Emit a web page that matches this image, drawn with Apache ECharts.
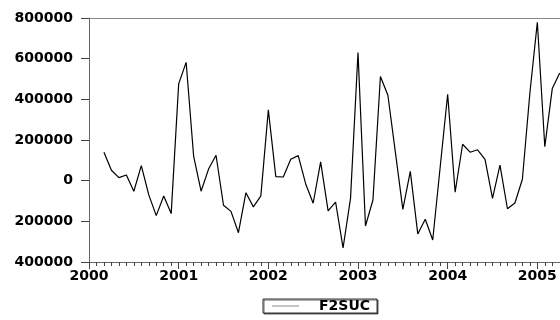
<!DOCTYPE html>
<html>
<head>
<meta charset="utf-8">
<script src="https://cdn.jsdelivr.net/npm/echarts@6/dist/echarts.min.js"></script>
<style>
  html, body { margin: 0; padding: 0; background: #fff; overflow: hidden; width: 560px; height: 320px; }
  /* the plot runs on past the right edge of the page, into 2006 */
  #chart { width: 630px; height: 320px; }
</style>
</head>
<body>
<div id="chart"></div>
<script>
// Monthly series F2SUC, March 2000 to April 2005
const startYear = 2000;
const startMonth = 3;
const seriesName = 'F2SUC';
const f2suc = [
  140000, 51000, 15000, 28000, -52000, 74000, -70000, -172000, -75000, -162000,
  476000, 582000, 121000, -52000, 57000, 125000, -121000, -151000, -256000, -59000, -129000, -75000,
  348000, 20000, 18000, 105000, 123000, -16000, -111000, 92000, -149000, -105000, -331000, -87000,
  630000, -223000, -95000, 512000, 420000, 140000, -141000, 46000, -262000, -190000, -292000, 67000,
  425000, -57000, 179000, 140000, 152000, 105000, -87000, 76000, -138000, -110000, 7000, 430000,
  779000, 167000, 453000, 530000
];
const xTickLabels = ['2000', '2001', '2002', '2003', '2004', '2005'];
const yTickValues = [-400000, -200000, 0, 200000, 400000, 600000, 800000];
const yTickLabels = ['400000', '200000', '0', '200000', '400000', '600000', '800000'];

// decimal-year x coordinate for each observation
const points = f2suc.map((v, i) => [startYear + (startMonth - 1 + i) / 12, v]);

const labelFont = { fontFamily: 'DejaVu Sans', fontWeight: 'bold', fontSize: 14, color: '#000' };

const chart = echarts.init(document.getElementById('chart'), null, { renderer: 'canvas' });
chart.setOption({
  animation: false,
  backgroundColor: '#fff',
  grid: { left: 89, top: 18, right: 0, bottom: 58, containLabel: false },
  legend: {
    left: 263, top: 299,
    padding: [0, 7, 0, 9],
    borderColor: '#333', borderWidth: 1,
    shadowColor: 'rgba(0,0,0,0.6)', shadowOffsetX: 1, shadowOffsetY: 1, shadowBlur: 0,
    backgroundColor: '#fff',
    itemWidth: 27, itemHeight: 1,
    data: [{ name: seriesName, icon: 'rect', itemStyle: { color: '#888' } }],
    formatter: '{gap|}{txt|{name}}',
    textStyle: {
      rich: {
        gap: { width: 15 },
        txt: { fontFamily: 'DejaVu Sans', fontWeight: 'bold', fontSize: 14, color: '#000', lineHeight: 14 }
      }
    }
  },
  xAxis: [{
    type: 'value',
    min: 2000, max: 2006, interval: 1,
    position: 'bottom',
    splitLine: { show: false },
    axisLine: { show: true, onZero: false, lineStyle: { color: '#666', width: 1 } },
    axisTick: { show: true, inside: false, length: 7, lineStyle: { color: '#444' } },
    minorTick: { show: true, splitNumber: 12, length: 4, lineStyle: { color: '#444' } },
    axisLabel: Object.assign({
      margin: 7,
      formatter: v => {
        const k = xTickLabels.indexOf(String(Math.round(v)));
        return Math.abs(v - Math.round(v)) < 1e-6 && k >= 0 ? xTickLabels[k] : '';
      }
    }, labelFont)
  }, {
    type: 'value',
    min: 2000, max: 2006,
    position: 'top',
    splitLine: { show: false },
    axisLine: { show: true, onZero: false, lineStyle: { color: '#888', width: 1 } },
    axisTick: { show: false },
    axisLabel: { show: false }
  }],
  yAxis: {
    type: 'value',
    min: -400000, max: 800000, interval: 200000,
    splitLine: { show: false },
    axisLine: { show: true, onZero: false, lineStyle: { color: '#666', width: 1 } },
    axisTick: { show: true, inside: false, length: 8, lineStyle: { color: '#444' } },
    axisLabel: Object.assign({
      margin: 16,
      formatter: v => {
        const k = yTickValues.indexOf(v);
        return k >= 0 ? yTickLabels[k] : '';
      }
    }, labelFont)
  },
  series: [{
    name: seriesName,
    type: 'line',
    xAxisIndex: 0,
    data: points,
    showSymbol: false,
    symbol: 'none',
    clip: true,
    lineStyle: { color: '#000', width: 1.2 },
    itemStyle: { color: '#000' }
  }]
});
</script>
</body>
</html>
